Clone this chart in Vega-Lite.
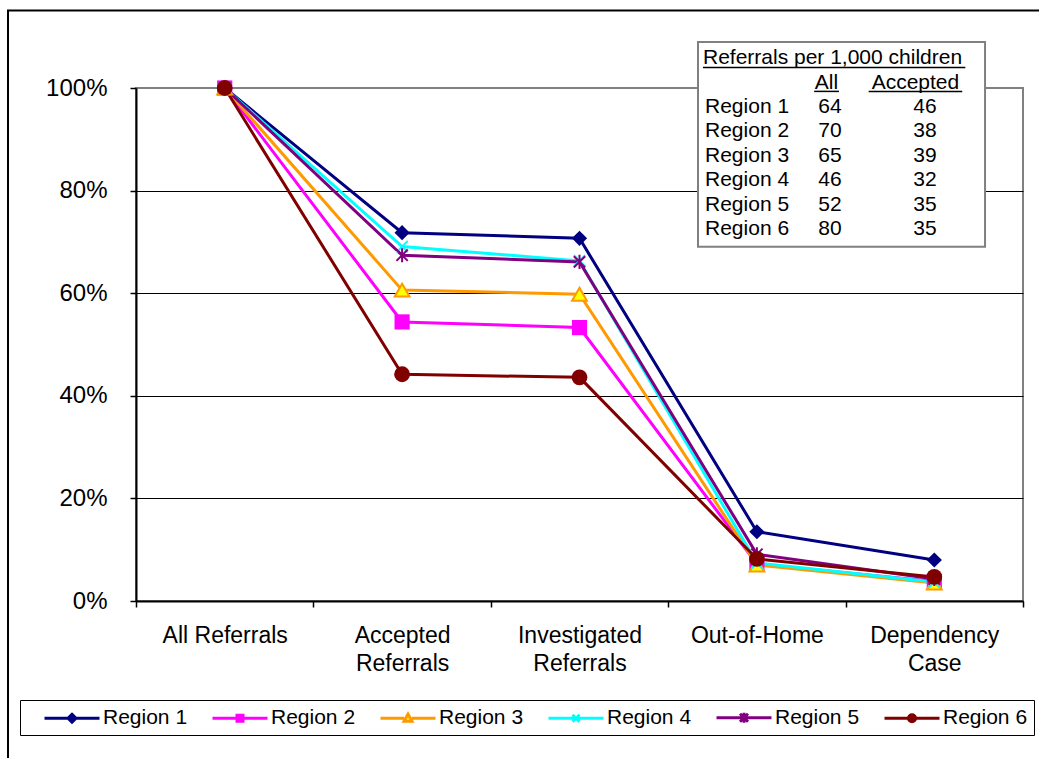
{
  "$schema": "https://vega.github.io/schema/vega-lite/v6.json",
  "width": 887,
  "height": 513,
  "autosize": {"type": "none"},
  "padding": {"left": 136, "top": 88, "right": 16, "bottom": 157},
  "background": "white",
  "config": {
    "view": {"stroke": "#808080", "strokeWidth": 2},
    "font": "Liberation Sans"
  },
  "datasets": {
    "series": [
      {"region": "Region 1", "stage": "All Referrals", "value": 1.0},
      {"region": "Region 1", "stage": "Accepted Referrals", "value": 0.718},
      {"region": "Region 1", "stage": "Investigated Referrals", "value": 0.707},
      {"region": "Region 1", "stage": "Out-of-Home", "value": 0.135},
      {"region": "Region 1", "stage": "Dependency Case", "value": 0.080},
      {"region": "Region 2", "stage": "All Referrals", "value": 1.0},
      {"region": "Region 2", "stage": "Accepted Referrals", "value": 0.544},
      {"region": "Region 2", "stage": "Investigated Referrals", "value": 0.533},
      {"region": "Region 2", "stage": "Out-of-Home", "value": 0.072},
      {"region": "Region 2", "stage": "Dependency Case", "value": 0.038},
      {"region": "Region 3", "stage": "All Referrals", "value": 1.0},
      {"region": "Region 3", "stage": "Accepted Referrals", "value": 0.606},
      {"region": "Region 3", "stage": "Investigated Referrals", "value": 0.598},
      {"region": "Region 3", "stage": "Out-of-Home", "value": 0.070},
      {"region": "Region 3", "stage": "Dependency Case", "value": 0.035},
      {"region": "Region 4", "stage": "All Referrals", "value": 1.0},
      {"region": "Region 4", "stage": "Accepted Referrals", "value": 0.691},
      {"region": "Region 4", "stage": "Investigated Referrals", "value": 0.663},
      {"region": "Region 4", "stage": "Out-of-Home", "value": 0.074},
      {"region": "Region 4", "stage": "Dependency Case", "value": 0.037},
      {"region": "Region 5", "stage": "All Referrals", "value": 1.0},
      {"region": "Region 5", "stage": "Accepted Referrals", "value": 0.674},
      {"region": "Region 5", "stage": "Investigated Referrals", "value": 0.661},
      {"region": "Region 5", "stage": "Out-of-Home", "value": 0.091},
      {"region": "Region 5", "stage": "Dependency Case", "value": 0.043},
      {"region": "Region 6", "stage": "All Referrals", "value": 1.0},
      {"region": "Region 6", "stage": "Accepted Referrals", "value": 0.442},
      {"region": "Region 6", "stage": "Investigated Referrals", "value": 0.436},
      {"region": "Region 6", "stage": "Out-of-Home", "value": 0.082},
      {"region": "Region 6", "stage": "Dependency Case", "value": 0.047}
    ],
    "table": [
      {"region": "Region 1", "all": 64, "accepted": 46},
      {"region": "Region 2", "all": 70, "accepted": 38},
      {"region": "Region 3", "all": 65, "accepted": 39},
      {"region": "Region 4", "all": 46, "accepted": 32},
      {"region": "Region 5", "all": 52, "accepted": 35},
      {"region": "Region 6", "all": 80, "accepted": 35}
    ]
  },
  "layer": [
    {
      "data": {"name": "series"},
      "encoding": {
        "x": {
          "field": "stage", "type": "nominal",
          "sort": ["All Referrals", "Accepted Referrals", "Investigated Referrals", "Out-of-Home", "Dependency Case"],
          "scale": {"type": "band", "paddingInner": 0, "paddingOuter": 0},
          "axis": {
            "title": null, "tickBand": "extent", "grid": false,
            "domainColor": "#000000", "domainWidth": 2,
            "tickColor": "#000000", "tickSize": 6, "tickWidth": 1.5,
            "labelAngle": 0, "labelFontSize": 23, "labelColor": "#000000",
            "labelFont": "Liberation Sans", "labelPadding": 17, "labelLineHeight": 28,
            "labelBaseline": "top", "labelOverlap": false,
            "labelExpr": "datum.label === 'Accepted Referrals' ? ['Accepted', 'Referrals'] : datum.label === 'Investigated Referrals' ? ['Investigated', 'Referrals'] : datum.label === 'Dependency Case' ? ['Dependency', 'Case'] : datum.label"
          }
        },
        "y": {
          "field": "value", "type": "quantitative",
          "scale": {"domain": [0, 1], "nice": false},
          "axis": {
            "title": null, "values": [0, 0.2, 0.4, 0.6, 0.8, 1], "format": ".0%",
            "grid": true,
            "gridColor": {"condition": {"test": "datum.value === 1", "value": "#808080"}, "value": "#000000"},
            "gridWidth": 1,
            "domainColor": "#000000", "domainWidth": 2,
            "tickColor": "#000000", "tickSize": 6, "tickWidth": 1.5,
            "labelFontSize": 24, "labelColor": "#000000", "labelFont": "Liberation Sans",
            "labelPadding": 23
          }
        }
      },
      "layer": [
        {
          "mark": {"type": "line", "strokeWidth": 3},
          "encoding": {
            "color": {
              "field": "region", "type": "nominal",
              "scale": {
                "domain": ["Region 1", "Region 2", "Region 3", "Region 4", "Region 5", "Region 6"],
                "range": ["#000080", "#FF00FF", "#FF9900", "#00FFFF", "#800080", "#800000"]
              },
              "legend": {
                "orient": "none", "legendX": -116, "legendY": 612,
                "direction": "horizontal", "columns": 6, "title": null,
                "symbolSize": 400, "symbolStrokeWidth": 3,
                "labelOffset": 54, "columnPadding": 6, "padding": 6,
                "strokeColor": "#000000", "fillColor": "#FFFFFF",
                "labelFont": "Liberation Sans", "labelFontSize": 21, "labelColor": "#000000",
                "encode": {
                  "symbols": {
                    "update": {
                      "shape": {"signal": "datum.value === 'Region 1' ? 'M0.7,0H6.2M3.45,-0.4L3.85,0L3.45,0.4L3.05,0Z' : datum.value === 'Region 2' ? 'M0.7,0H6.2M3.15,-0.3H3.75V0.3H3.15Z' : datum.value === 'Region 3' ? 'M0.7,0H3.05M3.85,0H6.2M3.45,-0.42L3.85,0.3H3.05Z' : datum.value === 'Region 4' ? 'M0.7,0H6.2M3.1,-0.35L3.8,0.35M3.1,0.35L3.8,-0.35' : datum.value === 'Region 5' ? 'M0.7,0H6.2M3.05,-0.4L3.85,0.4M3.05,0.4L3.85,-0.4M3.45,-0.5V0.5' : 'M0.7,0H6.2M3.1,0A0.35,0.35,0,1,0,3.8,0A0.35,0.35,0,1,0,3.1,0Z'"},
                      "fill": {"signal": "datum.value === 'Region 1' ? '#000080' : datum.value === 'Region 2' ? '#FF00FF' : datum.value === 'Region 3' ? '#FFFF00' : datum.value === 'Region 6' ? '#800000' : 'transparent'"},
                      "stroke": {"signal": "datum.value === 'Region 1' ? '#000080' : datum.value === 'Region 2' ? '#FF00FF' : datum.value === 'Region 3' ? '#FF9900' : datum.value === 'Region 4' ? '#00FFFF' : datum.value === 'Region 5' ? '#800080' : '#800000'"},
                      "strokeWidth": {"value": 3},
                      "opacity": {"value": 1},
                      "size": {"value": 400}
                    }
                  }
                }
              }
            }
          }
        },
        {
          "transform": [{"filter": "datum.region === 'Region 1'"}],
          "mark": {"type": "point", "shape": "diamond", "size": 230, "filled": true, "color": "#000080", "opacity": 1, "strokeWidth": 1}
        },
        {
          "transform": [{"filter": "datum.region === 'Region 2'"}],
          "mark": {"type": "point", "shape": "square", "size": 230, "filled": true, "color": "#FF00FF", "opacity": 1, "strokeWidth": 1}
        },
        {
          "transform": [{"filter": "datum.region === 'Region 3'"}],
          "mark": {"type": "point", "shape": "triangle-up", "size": 220, "filled": true, "fill": "#FFFF00", "stroke": "#FF9900", "opacity": 1, "strokeWidth": 2}
        },
        {
          "transform": [{"filter": "datum.region === 'Region 4'"}],
          "mark": {"type": "point", "shape": "M-0.8,-0.8L0.8,0.8M-0.8,0.8L0.8,-0.8", "size": 200, "filled": false, "stroke": "#00FFFF", "opacity": 1, "strokeWidth": 2}
        },
        {
          "transform": [{"filter": "datum.region === 'Region 5'"}],
          "mark": {"type": "point", "shape": "M-0.8,-0.8L0.8,0.8M-0.8,0.8L0.8,-0.8M0,-1V1", "size": 200, "filled": false, "stroke": "#800080", "opacity": 1, "strokeWidth": 2}
        },
        {
          "transform": [{"filter": "datum.region === 'Region 6'"}],
          "mark": {"type": "point", "shape": "circle", "size": 250, "filled": true, "color": "#800000", "opacity": 1, "strokeWidth": 1}
        }
      ]
    },
    {
      "layer": [
        {
          "data": {"values": [{}]},
          "mark": {"type": "rect", "fill": "transparent", "stroke": "#000000", "strokeWidth": 2},
          "encoding": {
            "x": {"datum": -14.43, "type": "quantitative", "scale": {"domain": [0, 100], "nice": false, "zero": false}, "axis": null},
            "x2": {"datum": 103},
            "y": {"datum": -2.955, "type": "quantitative", "scale": {"domain": [0.221, 21.25], "nice": false, "zero": false, "reverse": true}, "axis": null},
            "y2": {"datum": 28.5}
          }
        },
        {
          "data": {"values": [{}]},
          "mark": {"type": "rect", "fill": "#FFFFFF", "stroke": "#808080", "strokeWidth": 2},
          "encoding": {
            "x": {"datum": 63.36, "type": "quantitative", "axis": null},
            "x2": {"datum": 95.72},
            "y": {"datum": -1.665, "type": "quantitative", "axis": null},
            "y2": {"datum": 6.728}
          }
        },
        {
          "data": {"values": [{}]},
          "mark": {"type": "text", "text": "Referrals per 1,000 children", "align": "left", "baseline": "middle", "fontSize": 21, "font": "Liberation Sans", "color": "#000000"},
          "encoding": {
            "x": {"datum": 63.92, "type": "quantitative", "axis": null},
            "y": {"datum": -1, "type": "quantitative", "axis": null}
          }
        },
        {
          "data": {"values": [{}]},
          "mark": {"type": "text", "text": "All", "align": "center", "baseline": "middle", "fontSize": 21, "font": "Liberation Sans", "color": "#000000"},
          "encoding": {
            "x": {"datum": 77.85, "type": "quantitative", "axis": null},
            "y": {"datum": 0, "type": "quantitative", "axis": null}
          }
        },
        {
          "data": {"values": [{}]},
          "mark": {"type": "text", "text": "Accepted", "align": "center", "baseline": "middle", "fontSize": 21, "font": "Liberation Sans", "color": "#000000"},
          "encoding": {
            "x": {"datum": 87.87, "type": "quantitative", "axis": null},
            "y": {"datum": 0, "type": "quantitative", "axis": null}
          }
        },
        {
          "data": {"values": [{}]},
          "mark": {"type": "rule", "color": "#000000", "strokeWidth": 1.5},
          "encoding": {
            "x": {"datum": 63.92, "type": "quantitative", "axis": null},
            "x2": {"datum": 93.5},
            "y": {"datum": -0.62, "type": "quantitative", "axis": null}
          }
        },
        {
          "data": {"values": [{}]},
          "mark": {"type": "rule", "color": "#000000", "strokeWidth": 1.5},
          "encoding": {
            "x": {"datum": 76.45, "type": "quantitative", "axis": null},
            "x2": {"datum": 79.25},
            "y": {"datum": 0.36, "type": "quantitative", "axis": null}
          }
        },
        {
          "data": {"values": [{}]},
          "mark": {"type": "rule", "color": "#000000", "strokeWidth": 1.5},
          "encoding": {
            "x": {"datum": 82.6, "type": "quantitative", "axis": null},
            "x2": {"datum": 93.15},
            "y": {"datum": 0.36, "type": "quantitative", "axis": null}
          }
        },
        {
          "data": {"name": "table"},
          "transform": [{"window": [{"op": "row_number", "as": "r"}]}],
          "mark": {"type": "text", "align": "left", "baseline": "middle", "fontSize": 21, "font": "Liberation Sans", "color": "#000000"},
          "encoding": {
            "x": {"datum": 64.15, "type": "quantitative", "axis": null},
            "y": {"field": "r", "type": "quantitative", "axis": null},
            "text": {"field": "region"}
          }
        },
        {
          "data": {"name": "table"},
          "transform": [{"window": [{"op": "row_number", "as": "r"}]}],
          "mark": {"type": "text", "align": "center", "baseline": "middle", "fontSize": 21, "font": "Liberation Sans", "color": "#000000"},
          "encoding": {
            "x": {"datum": 78.24, "type": "quantitative", "axis": null},
            "y": {"field": "r", "type": "quantitative", "axis": null},
            "text": {"field": "all"}
          }
        },
        {
          "data": {"name": "table"},
          "transform": [{"window": [{"op": "row_number", "as": "r"}]}],
          "mark": {"type": "text", "align": "center", "baseline": "middle", "fontSize": 21, "font": "Liberation Sans", "color": "#000000"},
          "encoding": {
            "x": {"datum": 88.95, "type": "quantitative", "axis": null},
            "y": {"field": "r", "type": "quantitative", "axis": null},
            "text": {"field": "accepted"}
          }
        }
      ]
    }
  ],
  "resolve": {"scale": {"x": "independent", "y": "independent"}}
}
